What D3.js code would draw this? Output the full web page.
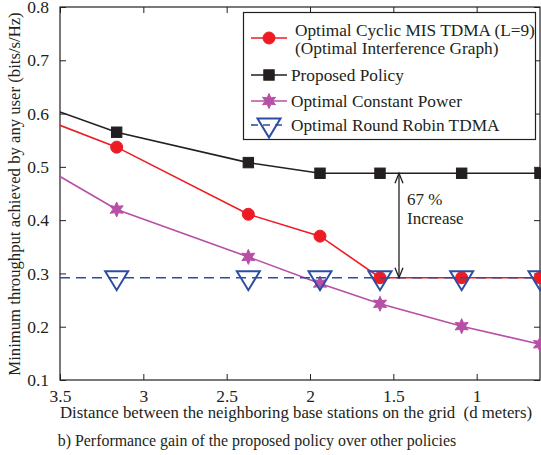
<!DOCTYPE html>
<html>
  <head>
    <meta charset="UTF-8">
    <script src="https://d3js.org/d3.v7.min.js"></script>
    <style>
      body { margin: 0; background: #fff; }
      svg text { font-family: "Liberation Serif", "Times New Roman", Times, serif; fill: #231f20; }
    </style>
    <title>Performance gain of the proposed policy</title>
  </head>
  <body>
    <svg id="svg" width="541" height="455"></svg>
    <script>
// ---- data ----
// first entry is where the lines enter the plot at d = 3.5 (no marker there)
const distance   = [3.5, 3.16, 2.37, 1.94, 1.58, 1.09, 0.62];
const cyclicMis  = [0.578, 0.537, 0.411, 0.370, 0.292, 0.292, 0.292];
const proposed   = [0.603, 0.565, 0.508, 0.488, 0.488, 0.488, 0.488];
const constPower = [0.482, 0.420, 0.331, 0.281, 0.243, 0.201, 0.167];
const roundRobin = [0.292, 0.292, 0.292, 0.292, 0.292, 0.292, 0.292];

const xTicks = [3.5, 3, 2.5, 2, 1.5, 1];
const yTicks = [0.1, 0.2, 0.3, 0.4, 0.5, 0.6, 0.7, 0.8];

const seriesNames = ["Optimal Cyclic MIS TDMA (L=9)|(Optimal Interference Graph)",
                     "Proposed Policy", "Optimal Constant Power", "Optimal Round Robin TDMA"];

const svg = d3.select("svg#svg");
const margin = {top: 7, left: 60, right: 540, bottom: 380};

const x = d3.scaleLinear().domain([3.5, 0.62]).range([margin.left, margin.right]);
const y = d3.scaleLinear().domain([0.1, 0.8]).range([margin.bottom, margin.top]);

// ---- markers ----
function hexagram(r) {
  let pts = [];
  for (let i = 0; i < 12; i++) {
    const a = -Math.PI / 2 + i * Math.PI / 6;
    const rr = i % 2 == 0 ? r : r * 0.5;
    pts.push([rr * Math.cos(a), rr * Math.sin(a)]);
  }
  return "M" + pts.map(p => p.join(",")).join("L") + "Z";
}
const markers = {
  circle: g => g.append("circle").attr("r", 6),
  square: g => g.append("rect").attr("x", -5.2).attr("y", -5.2).attr("width", 10.4).attr("height", 10.4),
  star: g => g.append("path").attr("d", hexagram(7.5)),
  tri: g => g.append("path").attr("d", "M-11.5,-6.5L11.5,-6.5L0,12.5Z")
};

const series = [
  {vals: cyclicMis,  color: "#ed1c24", marker: "circle", fill: true,  dash: null},
  {vals: proposed,   color: "#231f20", marker: "square", fill: true,  dash: null},
  {vals: constPower, color: "#b84fa6", marker: "star",   fill: true,  dash: null},
  {vals: roundRobin, color: "#2b4ea2", marker: "tri",    fill: false, dash: "10,6"}
];

// ---- axes frame ----
svg.append("rect")
  .attr("x", margin.left).attr("y", margin.top)
  .attr("width", margin.right - margin.left).attr("height", margin.bottom - margin.top)
  .attr("fill", "none").attr("stroke", "#231f20").attr("stroke-width", 1.2);

const bottomAxis = d3.axisBottom(x).tickValues(xTicks).tickSizeInner(-6).tickSizeOuter(0)
  .tickPadding(10).tickFormat(d3.format("~g"));
svg.append("g").attr("transform", "translate(0," + margin.bottom + ")").call(bottomAxis)
  .call(g => g.select(".domain").remove())
  .call(g => g.selectAll("text").style("font-size", "17.5px"));
svg.append("g").attr("transform", "translate(0," + margin.top + ")")
  .call(d3.axisTop(x).tickValues(xTicks).tickSizeInner(-6).tickSizeOuter(0).tickFormat(""))
  .call(g => g.select(".domain").remove());

const leftAxis = d3.axisLeft(y).tickValues(yTicks).tickSizeInner(-6).tickSizeOuter(0)
  .tickPadding(11).tickFormat(d3.format(".1f"));
svg.append("g").attr("transform", "translate(" + margin.left + ",0)").call(leftAxis)
  .call(g => g.select(".domain").remove())
  .call(g => g.selectAll("text").style("font-size", "17.5px"));
svg.append("g").attr("transform", "translate(" + margin.right + ",0)")
  .call(d3.axisRight(y).tickValues(yTicks).tickSizeInner(-6).tickSizeOuter(0).tickFormat(""))
  .call(g => g.select(".domain").remove());

svg.selectAll(".tick line").attr("stroke", "#231f20");

// ---- lines & markers ----
svg.append("clipPath").attr("id", "clip").append("rect")
  .attr("x", margin.left).attr("y", margin.top)
  .attr("width", 600).attr("height", margin.bottom - margin.top);

const plot = svg.append("g");
const lineGen = d3.line().x((d, i) => x(distance[i])).y(d => y(d));

series.forEach(s => {
  plot.append("path").datum(s.vals)
    .attr("d", lineGen)
    .attr("fill", "none")
    .attr("stroke", s.color)
    .attr("stroke-width", 1.6)
    .attr("stroke-dasharray", s.dash)
    .attr("clip-path", "url(#clip)");
  s.vals.forEach((v, i) => {
    if (i == 0) return;
    const g = plot.append("g").attr("transform", "translate(" + x(distance[i]) + "," + y(v) + ")");
    markers[s.marker](g)
      .attr("fill", s.fill ? s.color : "none")
      .attr("stroke", s.color)
      .attr("stroke-width", s.fill ? 1 : 2);
  });
});

// ---- annotation ----
const ax = x(1.466), aTop = y(proposed[4]), aBot = y(roundRobin[4]);
const ann = svg.append("g").attr("stroke", "#231f20").attr("stroke-width", 1.3).attr("fill", "none");
ann.append("line").attr("x1", ax).attr("x2", ax).attr("y1", aTop).attr("y2", aBot);
ann.append("path").attr("d", `M${ax - 4},${aTop + 10}L${ax},${aTop}L${ax + 4},${aTop + 10}`);
ann.append("path").attr("d", `M${ax - 4},${aBot - 10}L${ax},${aBot}L${ax + 4},${aBot - 10}`);
svg.append("text").attr("x", ax + 8).attr("y", 205).style("font-size", "17px").text("67 %");
svg.append("text").attr("x", ax + 8).attr("y", 224).style("font-size", "17px").text("Increase");

// ---- legend ----
const legend = svg.append("g");
legend.append("rect").attr("x", 243.5).attr("y", 12.5).attr("width", 292).attr("height", 127)
  .attr("fill", "#fff").attr("stroke", "#231f20").attr("stroke-width", 1.2);
const legendY = [38, 75, 101, 125];
const legendTextX = [295, 291, 291, 291];
series.forEach((s, i) => {
  const ly = legendY[i];
  legend.append("line").attr("x1", 251).attr("x2", 287).attr("y1", ly).attr("y2", ly)
    .attr("stroke", s.color).attr("stroke-width", 1.6).attr("stroke-dasharray", s.dash ? "7,5" : null);
  const g = legend.append("g").attr("transform", "translate(269," + ly + ")");
  markers[s.marker](g)
    .attr("fill", s.fill ? s.color : "none")
    .attr("stroke", s.color)
    .attr("stroke-width", s.fill ? 1 : 2);
  const lines = seriesNames[i].split("|");
  lines.forEach((t, j) => {
    legend.append("text")
      .attr("x", legendTextX[i])
      .attr("y", lines.length > 1 ? 36 + j * 18 : ly + 6)
      .style("font-size", "17.3px")
      .text(t);
  });
});

// ---- axis labels & caption ----
svg.append("text")
  .attr("transform", "translate(20,194) rotate(-90)")
  .attr("text-anchor", "middle")
  .style("font-size", "16.7px")
  .text("Minimum throughput achieved by any user (bits/s/Hz)");

svg.append("text")
  .attr("x", 60).attr("y", 418)
  .style("font-size", "16.8px")
  .style("white-space", "pre")
  .text("Distance between the neighboring base stations on the grid  (d meters)");

svg.append("text")
  .attr("x", 257).attr("y", 446)
  .attr("text-anchor", "middle")
  .style("font-size", "15.9px")
  .text("b) Performance gain of the proposed policy over other policies");
    </script>
  </body>
</html>
